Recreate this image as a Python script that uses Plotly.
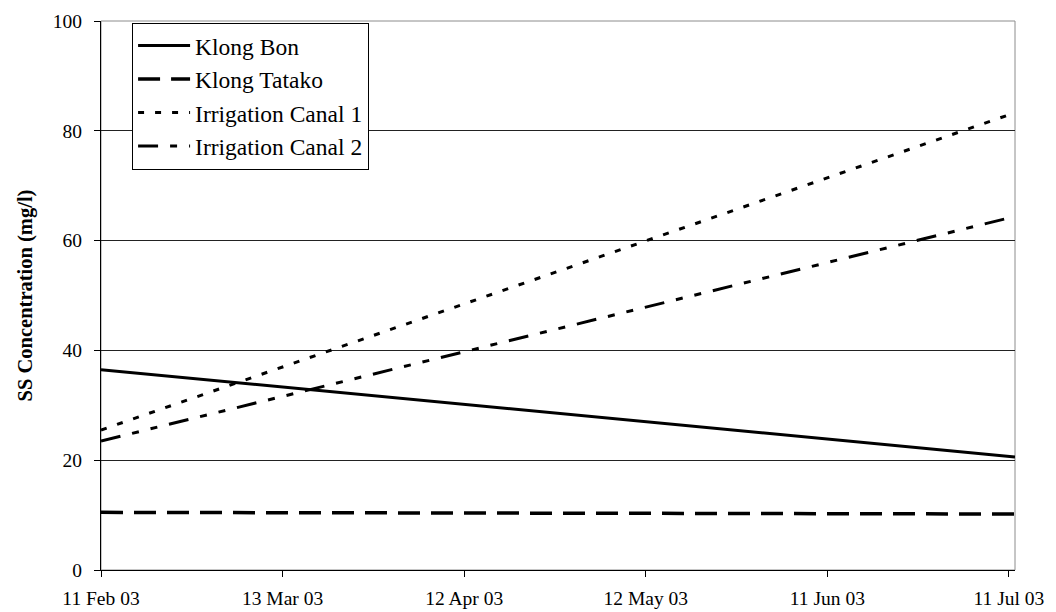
import plotly.graph_objects as go

# Suspended solids concentration, trend lines over the sampling period
dates = ["2003-02-11", "2003-07-12"]
series_names = ["Klong Bon", "Klong Tatako", "Irrigation Canal 1", "Irrigation Canal 2"]
klong_bon = [36.5, 20.6]
klong_tatako = [10.5, 10.2]
irrigation_canal_1 = [25.5, 83.3]
irrigation_canal_2 = [23.5, 64.4]

tick_dates = ["2003-02-11", "2003-03-13", "2003-04-12", "2003-05-12", "2003-06-11", "2003-07-11"]
tick_labels = ["11 Feb 03", "13 Mar 03", "12 Apr 03", "12 May 03", "11 Jun 03", "11 Jul 03"]
y_ticks = [0, 20, 40, 60, 80, 100]

FONT = "Liberation Serif"

styles = [
    dict(width=3, dash="solid"),
    dict(width=3.5, dash="22px,11px"),
    dict(width=3, dash="6px,11px"),
    dict(width=3, dash="20px,12px,7px,12px,7px,12px"),
]

fig = go.Figure()
for i, (name, vals) in enumerate(zip(series_names,
                                     [klong_bon, klong_tatako, irrigation_canal_1, irrigation_canal_2])):
    fig.add_trace(go.Scatter(
        x=dates, y=vals, mode="lines", name=name,
        legendgroup=f"g{i}",
        line=dict(color="black", **styles[i]),
    ))

# gray plot-area frame
fig.add_shape(type="rect", xref="paper", yref="paper", x0=0, y0=0, x1=1, y1=1,
              line=dict(color="#8c8c8c", width=1), layer="below")

fig.update_layout(
    width=1056, height=612,
    margin=dict(l=101, r=41, t=21, b=42),
    paper_bgcolor="white", plot_bgcolor="white",
    font=dict(family=FONT, color="black", size=19.5),
    showlegend=True,
    legend=dict(
        x=0.034, y=0.997, xanchor="left", yanchor="top",
        bgcolor="white", bordercolor="black", borderwidth=1,
        font=dict(family=FONT, size=23.5, color="black"),
        tracegroupgap=0,
        itemwidth=52,
    ),
    xaxis=dict(
        type="date",
        range=["2003-02-11", "2003-07-12"],
        tickvals=tick_dates, ticktext=tick_labels,
        ticks="outside", ticklen=6, tickcolor="black", tickwidth=1,
        showline=True, linecolor="black", linewidth=1,
        showgrid=False, zeroline=False,
        tickfont=dict(family=FONT, size=19.5),
        ticklabelstandoff=5,
        automargin=False,
    ),
    yaxis=dict(
        range=[0, 100],
        tickvals=y_ticks,
        ticks="outside", ticklen=6, tickcolor="black", tickwidth=1,
        showline=True, linecolor="black", linewidth=1,
        showgrid=True, gridcolor="#222222", gridwidth=1,
        zeroline=False,
        tickfont=dict(family=FONT, size=19.5),
        ticklabelstandoff=8,
        automargin=False,
        title=dict(text="<b>SS Concentration (mg/l)</b>",
                   font=dict(family=FONT, size=20.5), standoff=14),
    ),
)

fig.write_html("out.html")
